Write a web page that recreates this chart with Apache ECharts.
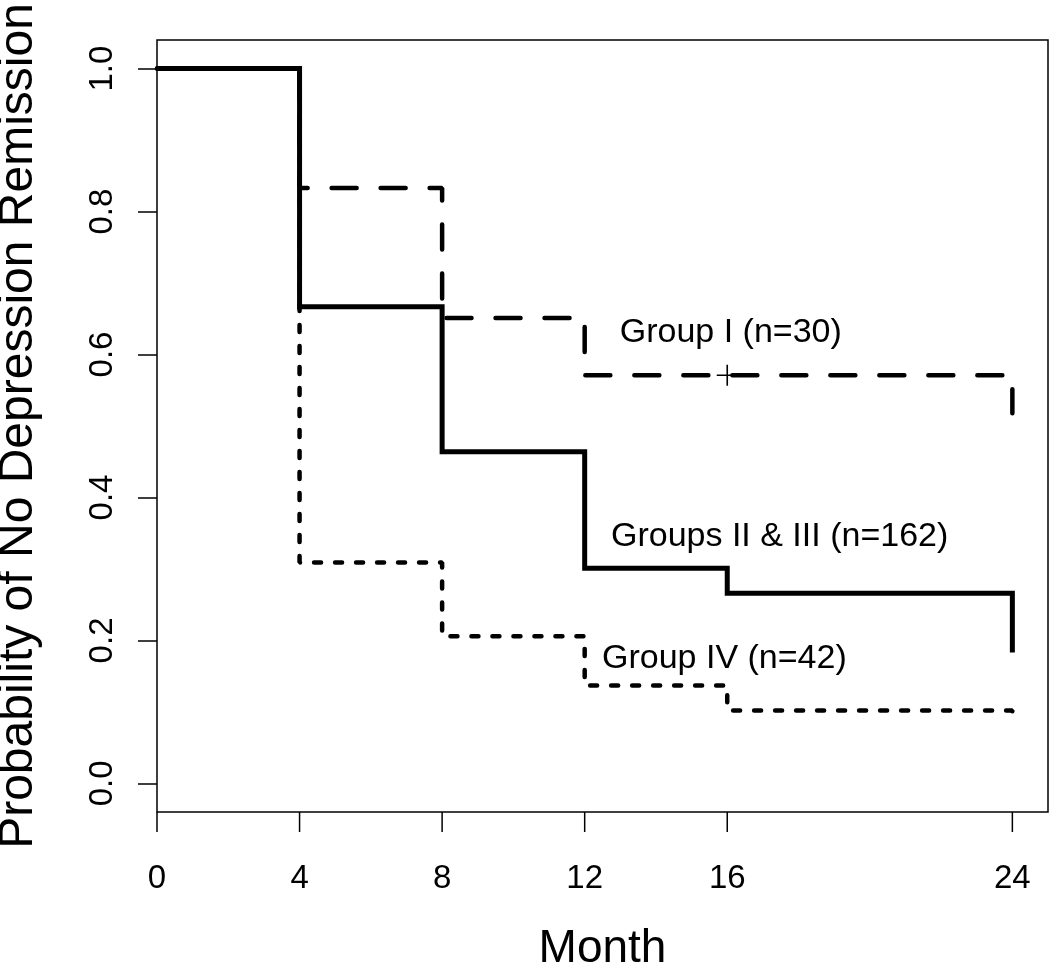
<!DOCTYPE html>
<html>
<head>
<meta charset="utf-8">
<script src="https://cdn.jsdelivr.net/npm/echarts@6/dist/echarts.min.js"></script>
<style>
html,body{margin:0;padding:0;background:#fff;}
#chart{width:1050px;height:966px;}
</style>
</head>
<body>
<div id="chart"></div>
<script>
// Months at which survival is evaluated
const months = [0, 4, 8, 12, 16, 24];
const xTicks = [0, 4, 8, 12, 16, 24];
const yTicks = [0, 0.2, 0.4, 0.6, 0.8, 1.0];

// Kaplan-Meier step values (probability of no depression remission)
const groupI   = [1.0, 0.833, 0.651, 0.571, 0.571, 0.518];
const groupII_III = [1.0, 0.667, 0.464, 0.301, 0.266, 0.183];
const groupIV  = [1.0, 0.309, 0.206, 0.137, 0.102, 0.084];

// Censoring mark for Group I
const censorI = [[16, 0.571]];

// Curve labels [x, y, text]
const annotations = [
  [16.1, 0.630, 'Group I (n=30)'],
  [17.47, 0.345, 'Groups II & III (n=162)'],
  [15.92, 0.175, 'Group IV (n=42)']
];

const FONT = '"Liberation Sans", Arial, sans-serif';
const Y_MIN = -0.04, Y_MAX = 1.04;
const pair = (vals) => months.map((m, i) => [m, vals[i]]);

const chart = echarts.init(document.getElementById('chart'));
chart.setOption({
  animation: false,
  backgroundColor: '#fff',
  grid: {
    left: 157, right: 2, top: 40, bottom: 154,
    containLabel: false, outerBoundsMode: 'none',
    show: true, borderColor: '#000', borderWidth: 1.5, backgroundColor: 'transparent'
  },
  xAxis: {
    type: 'value', min: 0, max: 25,
    name: 'Month', nameLocation: 'middle', nameGap: 114,
    nameTextStyle: { fontFamily: FONT, fontSize: 46, color: '#000' },
    splitLine: { show: false },
    axisLine: { show: false },
    axisTick: { show: false },
    axisLabel: { customValues: xTicks, margin: 50, fontFamily: FONT, fontSize: 33, color: '#000' }
  },
  yAxis: {
    type: 'value', min: Y_MIN, max: Y_MAX,
    name: 'Probability of No Depression Remission', nameLocation: 'middle', nameGap: 114,
    nameRotate: 90,
    nameTextStyle: { fontFamily: FONT, fontSize: 48, color: '#000' },
    splitLine: { show: false },
    axisLine: { show: false },
    axisTick: { show: true, length: 19, customValues: yTicks,
      lineStyle: { color: '#000', width: 1.5 } },
    axisLabel: { customValues: yTicks, rotate: 90, margin: 38, fontFamily: FONT, fontSize: 33, color: '#000',
      formatter: (v) => v.toFixed(1) }
  },
  series: [
    {
      name: 'xticks', type: 'custom', clip: false, silent: true, z: 1,
      data: xTicks.map(v => [v]),
      renderItem: (params, api) => {
        const p = api.coord([api.value(0), Y_MIN]);
        return { type: 'line', shape: { x1: p[0], y1: p[1], x2: p[0], y2: p[1] + 20 },
          style: { stroke: '#000', lineWidth: 1.5 } };
      }
    },
    {
      name: 'Group IV', type: 'line', step: 'end', data: pair(groupIV),
      symbol: 'none', z: 2,
      lineStyle: { color: '#000', width: 4.5, type: [7, 14], cap: 'round' }
    },
    {
      name: 'Group I', type: 'line', step: 'end', data: pair(groupI),
      symbol: 'none', z: 3,
      lineStyle: { color: '#000', width: 4.5, type: [25, 24], cap: 'round' }
    },
    {
      name: 'Groups II & III', type: 'line', step: 'end', data: pair(groupII_III),
      symbol: 'none', z: 4,
      lineStyle: { color: '#000', width: 5, type: 'solid', cap: 'butt', join: 'miter' }
    },
    {
      name: 'censor', type: 'scatter', data: censorI, z: 5,
      symbol: 'path://M0,10L20,10M10,0L10,20', symbolSize: 21,
      itemStyle: { color: 'none', borderColor: '#000', borderWidth: 1.6, opacity: 1 }
    },
    {
      name: 'labels', type: 'scatter', z: 6,
      data: annotations.map(a => ({ value: [a[0], a[1]], name: a[2] })),
      symbolSize: 0, symbol: 'circle', itemStyle: { color: '#000', opacity: 1 },
      label: { show: true, position: [0, 0], align: 'center', verticalAlign: 'middle',
        formatter: (p) => p.name, opacity: 1,
        fontFamily: FONT, fontSize: 34, color: '#000', textBorderWidth: 0 }
    }
  ]
});
</script>
</body>
</html>
